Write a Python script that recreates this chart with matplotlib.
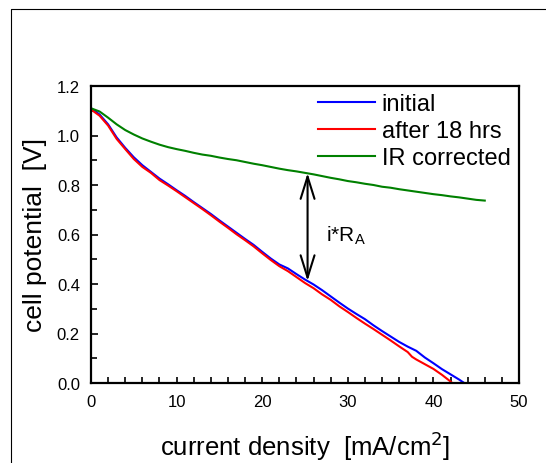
import matplotlib
matplotlib.use("Agg")
import matplotlib.pyplot as plt
from matplotlib.lines import Line2D
import numpy as np

plt.rcParams['font.family'] = ['Liberation Sans', 'DejaVu Sans']

# current density [mA/cm2]
x_initial = [0, 1, 2, 3, 4, 5, 6, 7, 8, 9, 10, 11, 12, 13, 14, 15, 16, 17, 18, 19,
             20, 21, 22, 23, 24, 25, 26, 27, 28, 29, 30, 31, 32, 33, 34, 35, 36, 37,
             38, 39, 40, 41, 42, 43, 43.6]
y_initial = [1.110, 1.085, 1.045, 0.992, 0.950, 0.912, 0.880, 0.853, 0.826, 0.803,
             0.779, 0.756, 0.731, 0.707, 0.683, 0.657, 0.632, 0.607, 0.582, 0.558,
             0.530, 0.503, 0.479, 0.463, 0.440, 0.418, 0.398, 0.375, 0.350, 0.325,
             0.301, 0.279, 0.258, 0.233, 0.210, 0.188, 0.166, 0.147, 0.130, 0.103,
             0.080, 0.056, 0.035, 0.014, 0.0]

x_after = [0, 1, 2, 3, 4, 5, 6, 7, 8, 9, 10, 11, 12, 13, 14, 15, 16, 17, 18, 19,
           20, 21, 22, 23, 24, 25, 26, 27, 28, 29, 30, 31, 32, 33, 34, 35, 36, 37,
           37.5, 38, 39, 40, 41, 42, 42.2]
y_after = [1.105, 1.080, 1.040, 0.986, 0.945, 0.905, 0.873, 0.849, 0.820, 0.798,
           0.775, 0.751, 0.727, 0.703, 0.678, 0.652, 0.627, 0.601, 0.577, 0.552,
           0.524, 0.497, 0.472, 0.452, 0.428, 0.404, 0.383, 0.358, 0.336, 0.310,
           0.287, 0.263, 0.240, 0.218, 0.195, 0.172, 0.148, 0.125, 0.106, 0.095,
           0.076, 0.057, 0.033, 0.006, 0.0]

x_ir = [0, 1, 2, 3, 4, 5, 6, 7, 8, 9, 10, 11, 12, 13, 14, 15, 16, 17, 18, 19,
        20, 21, 22, 23, 24, 25, 26, 27, 28, 29, 30, 31, 32, 33, 34, 35, 36, 37,
        38, 39, 40, 41, 42, 43, 44, 45, 46]
y_ir = [1.110, 1.097, 1.072, 1.045, 1.022, 1.004, 0.988, 0.975, 0.963, 0.953,
        0.945, 0.938, 0.930, 0.923, 0.918, 0.911, 0.905, 0.900, 0.893, 0.886,
        0.880, 0.873, 0.866, 0.860, 0.855, 0.849, 0.843, 0.836, 0.829, 0.823,
        0.816, 0.811, 0.805, 0.800, 0.793, 0.789, 0.783, 0.778, 0.773, 0.768,
        0.763, 0.759, 0.754, 0.750, 0.745, 0.740, 0.737]

series_labels = ['initial', 'after 18 hrs', 'IR corrected']
series_colors = ['#0000ff', '#ff0000', '#008000']

x_ticks = [0, 10, 20, 30, 40, 50]
y_ticks = [0.0, 0.2, 0.4, 0.6, 0.8, 1.0, 1.2]

arrow_x = 25.3
arrow_y_low = 0.412
arrow_y_high = 0.848

fig = plt.figure(figsize=(5.46, 4.64), dpi=100)
ax = fig.add_axes([91/546, 80/464, 428/546, 297/464])

ax.plot(x_initial, y_initial, color=series_colors[0], lw=1.5, label=series_labels[0])
ax.plot(x_after, y_after, color=series_colors[1], lw=1.5, label=series_labels[1])
ax.plot(x_ir, y_ir, color=series_colors[2], lw=1.5, label=series_labels[2])

ax.set_xlim(0, 50)
ax.set_ylim(0, 1.2)
ax.set_xticks(x_ticks)
ax.set_xticklabels([str(v) for v in x_ticks])
ax.set_yticks(y_ticks)
ax.set_yticklabels([f"{v:.1f}" for v in y_ticks])
ax.set_xticks(np.arange(0, 51, 2), minor=True)
ax.set_yticks(np.arange(0, 1.21, 0.1), minor=True)
ax.tick_params(axis='both', which='both', direction='in', top=False, right=False,
               labelsize=12, width=1.2, color='black')
ax.tick_params(axis='y', which='major', length=5, pad=8)
ax.tick_params(axis='y', which='minor', length=4)
ax.tick_params(axis='x', which='major', length=4, pad=8)
ax.tick_params(axis='x', which='minor', length=4)
for s in ax.spines.values():
    s.set_linewidth(1.6)

ax.set_xlabel('current density  [mA/cm$^2$]', fontsize=18.5, labelpad=14)
ax.set_ylabel('cell potential  [V]', fontsize=19, labelpad=7)

ax.annotate('', xy=(arrow_x, arrow_y_low), xytext=(arrow_x, arrow_y_high),
            arrowprops=dict(arrowstyle='<->,head_length=1.6,head_width=0.5',
                            lw=1.5, color='black', shrinkA=0, shrinkB=0,
                            mutation_scale=10))
ax.text(27.4, 0.575, 'i*R$_\\mathregular{A}$', fontsize=15, ha='left', va='baseline')

leg = ax.legend(loc='upper left', bbox_to_anchor=(0.53, 0.975), frameon=False,
                fontsize=17, handlelength=2.4, handletextpad=0.3,
                labelspacing=0.2, borderpad=0, borderaxespad=0)

fig.add_artist(Line2D([11/546, 11/546, 1.0], [0.0, 1 - 10/464, 1 - 10/464],
                      transform=fig.transFigure, color='black', lw=0.8))

fig.savefig('out.png', dpi=100)
